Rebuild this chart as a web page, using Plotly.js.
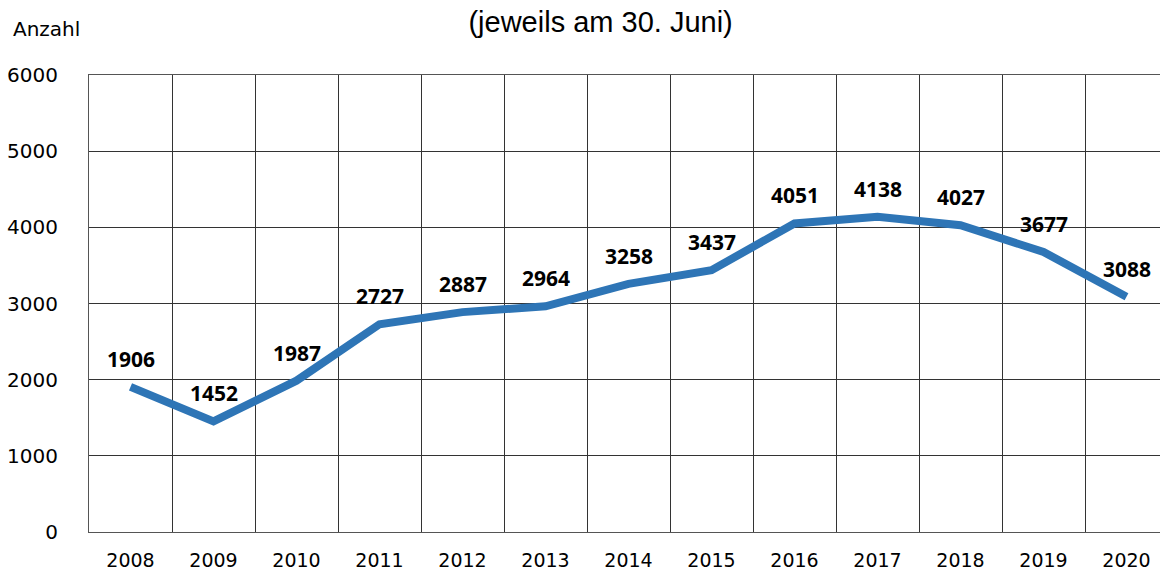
<!DOCTYPE html>
<html>
<head>
<meta charset="utf-8">
<script src="https://cdn.plot.ly/plotly-3.0.1.min.js"></script>
<style>html,body{margin:0;padding:0;overflow:hidden;background:#fff;width:1160px;height:572px}</style>
</head>
<body>
<div id="chart" style="width:1180px;height:572px"></div>
<script>
const years = ["2008","2009","2010","2011","2012","2013","2014","2015","2016","2017","2018","2019","2020"];
const counts = [1906,1452,1987,2727,2887,2964,3258,3437,4051,4138,4027,3677,3088];
const yTicks = [0,1000,2000,3000,4000,5000,6000];
const titleText = "(jeweils am 30. Juni)";
const yLabel = "Anzahl";

const lineColor = "#2e75b6";

const trace = {
  x: years, y: counts, type: "scatter", mode: "lines",
  line: {color: lineColor, width: 8, shape: "linear"},
  hoverinfo: "skip"
};

const labelAnns = years.map((yr, i) => ({
  x: i, y: counts[i], xref: "x", yref: "y",
  text: String(counts[i]), showarrow: false, yshift: 28,
  font: {family: "Open Sans, sans-serif", size: 21, color: "#000", weight: "bold"}
}));

const layout = {
  width: 1180, height: 572,
  margin: {l: 89, r: 12, t: 75, b: 40},
  paper_bgcolor: "#fff", plot_bgcolor: "#fff",
  showlegend: false,
  title: {text: titleText, x: 0.509, xanchor: "center", y: 0.962, yanchor: "middle",
          font: {family: "Liberation Sans, Arial, sans-serif", size: 29, color: "#000"}},
  xaxis: {
    type: "category", tickson: "boundaries",
    showgrid: true, gridcolor: "#333", gridwidth: 1,
    showline: true, linecolor: "#555", linewidth: 1, mirror: true,
    ticks: "", ticklabelstandoff: 11,
    tickfont: {family: "DejaVu Sans, sans-serif", size: 19, color: "#000"},
    range: [-0.5, 12.5], zeroline: false
  },
  yaxis: {
    range: [0, 6000], tickvals: yTicks, ticktext: yTicks.map(String),
    showgrid: true, gridcolor: "#333", gridwidth: 1,
    showline: true, linecolor: "#555", linewidth: 1, mirror: true,
    zeroline: false, ticks: "", ticklabelstandoff: 26,
    tickfont: {family: "DejaVu Sans, sans-serif", size: 20, color: "#000"}
  },
  annotations: labelAnns.concat([{
    text: yLabel, xref: "paper", yref: "paper", x: -0.072, y: 1.1,
    xanchor: "left", yanchor: "middle", showarrow: false,
    font: {family: "DejaVu Sans, sans-serif", size: 20, color: "#000"}
  }])
};

Plotly.newPlot("chart", [trace], layout, {displayModeBar: false, staticPlot: true});
</script>
</body>
</html>
